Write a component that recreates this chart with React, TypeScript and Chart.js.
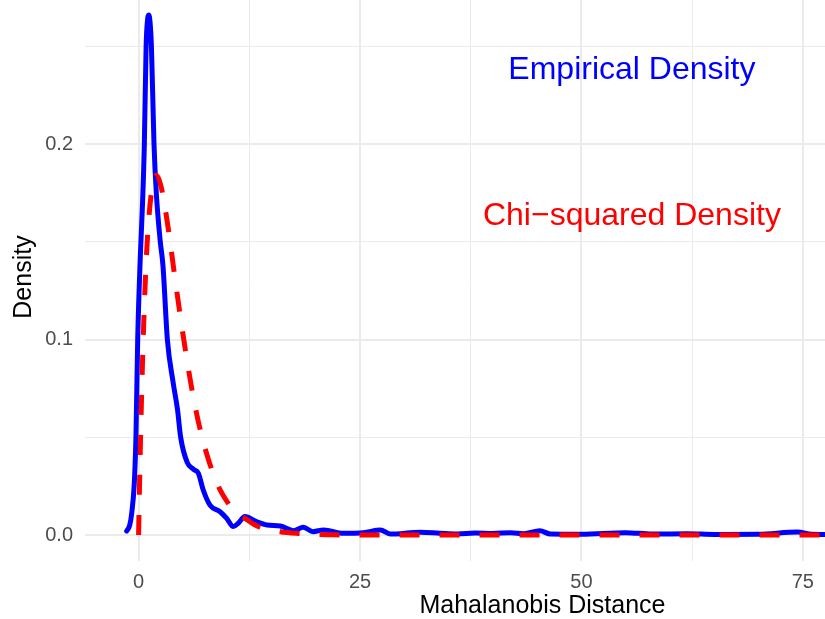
import React, { useEffect, useRef } from "react";
import { Chart, registerables } from "chart.js";

Chart.register(...registerables);

// Empirical density (blue solid)
const empiricalX = [-1.35, -1.0, -0.78, -0.49, -0.3, -0.1, 0.2, 0.45, 0.65, 0.85, 1.0, 1.15, 1.3, 1.45, 1.74, 2.0, 2.45, 2.75, 3.25, 3.9, 4.4, 4.75, 5.5, 6.2, 6.75, 7.3, 8.06, 9.2, 9.95, 10.7, 11.25, 12.0, 13.3, 14.5, 16.0, 17.5, 18.6, 19.7, 20.9, 23.1, 25.4, 27.3, 28.4, 31.8, 34, 36, 38, 40, 42, 43.5, 45.3, 46.5, 50, 55, 58, 62, 65, 70, 74.4, 76, 78];
const empiricalY = [0.002, 0.005, 0.011, 0.026, 0.05, 0.1, 0.143, 0.17, 0.2, 0.25, 0.263, 0.266, 0.262, 0.25, 0.2, 0.175, 0.15, 0.138, 0.1, 0.078, 0.064, 0.05, 0.037, 0.0336, 0.0316, 0.023, 0.0153, 0.0119, 0.0085, 0.0043, 0.006, 0.0094, 0.0068, 0.0051, 0.0046, 0.0022, 0.0039, 0.0017, 0.0026, 0.0009, 0.0012, 0.0026, 0.0005, 0.0014, 0.0009, 0.0005, 0.001, 0.0008, 0.0012, 0.0007, 0.0022, 0.0005, 0.0004, 0.0012, 0.0005, 0.0006, 0.0003, 0.0004, 0.0015, 0.0004, 0.0003];

// Chi-squared density (red dashed)
const chiX = [0, 0.1, 0.25, 0.5, 0.75, 1, 1.5, 2, 2.5, 3, 3.5, 4, 5, 6, 7, 8, 9, 10, 11, 12, 13, 14, 16, 18, 20, 22, 25, 30, 40, 50, 60, 70, 78];
const chiY = [0, 0.024, 0.055, 0.097, 0.129, 0.152, 0.177, 0.184, 0.179, 0.167, 0.152, 0.135, 0.103, 0.075, 0.053, 0.037, 0.025, 0.017, 0.011, 0.0085, 0.0055, 0.0035, 0.0017, 0.0008, 0.0003, 0.0001, 0, 0, 0, 0, 0, 0, 0];

// Axis ticks
const xMajorTicks = [0, 25, 50, 75];
const xTickLabels = ["0", "25", "50", "75"];
const xMinorTicks = [12.5, 37.5, 62.5];
const yMajorTicks = [0, 0.1, 0.2];
const yTickLabels = ["0.0", "0.1", "0.2"];
const yMinorTicks = [0.05, 0.15, 0.25];

const xTitle = "Mahalanobis Distance";
const yTitle = "Density";
const annotationTexts = ["Empirical Density", "Chi\u2212squared Density"];
const annotationX = [55.7, 55.7];
const annotationY = [0.238, 0.163];
const annotationColors = ["#0000ff", "#ff0000"];

const FONT = '"Liberation Sans", Arial, Helvetica, sans-serif';

const findIdx = (arr: number[], v: number) => arr.findIndex((a) => Math.abs(a - v) < 1e-9);

export default function App() {
  const ref = useRef<HTMLCanvasElement | null>(null);

  useEffect(() => {
    if (!ref.current) return;

    const textPlugin = {
      id: "textPlugin",
      afterDraw(chart: any) {
        const ctx = chart.ctx;
        const xs = chart.scales.x;
        const ys = chart.scales.y;
        ctx.save();
        ctx.textAlign = "center";
        ctx.textBaseline = "middle";
        ctx.font = `32px ${FONT}`;
        annotationTexts.forEach((t, i) => {
          ctx.fillStyle = annotationColors[i];
          ctx.fillText(t, xs.getPixelForValue(annotationX[i]), ys.getPixelForValue(annotationY[i]));
        });
        ctx.fillStyle = "#000000";
        ctx.font = `25px ${FONT}`;
        ctx.textBaseline = "alphabetic";
        ctx.fillText(xTitle, xs.getPixelForValue(45.6), 613);
        ctx.translate(31, 277);
        ctx.rotate(-Math.PI / 2);
        ctx.fillText(yTitle, 0, 0);
        ctx.restore();
      },
    };

    const zeroPad = (s: any) => {
      s.paddingTop = 0;
      s.paddingBottom = 0;
      s.paddingLeft = 0;
      s.paddingRight = 0;
    };

    const chart = new Chart(ref.current, {
      type: "line",
      data: {
        datasets: [
          {
            label: "Chi-squared Density",
            data: chiX.map((x, i) => ({ x, y: chiY[i] })),
            borderColor: "#ff0000",
            borderWidth: 5,
            borderDash: [20, 20],
            borderCapStyle: "butt",
            pointRadius: 0,
            cubicInterpolationMode: "monotone",
            fill: false,
            order: 0,
          },
          {
            label: "Empirical Density",
            data: empiricalX.map((x, i) => ({ x, y: empiricalY[i] })),
            borderColor: "#0000ff",
            borderWidth: 5,
            borderJoinStyle: "round",
            borderCapStyle: "round",
            pointRadius: 0,
            cubicInterpolationMode: "monotone",
            fill: false,
            order: 1,
          },
        ],
      },
      options: {
        animation: false,
        responsive: false,
        devicePixelRatio: 1,
        layout: { padding: 0, autoPadding: false },
        plugins: {
          legend: { display: false },
          tooltip: { enabled: false },
          title: { display: false },
        },
        scales: {
          x: {
            type: "linear",
            min: -6.05,
            max: 77.5,
            afterBuildTicks: (s: any) => {
              s.ticks = [...xMajorTicks, ...xMinorTicks].sort((a, b) => a - b).map((v) => ({ value: v }));
            },
            afterFit: (s: any) => {
              s.height = 58;
              zeroPad(s);
            },
            ticks: {
              autoSkip: false,
              maxRotation: 0,
              padding: 9,
              color: "#4d4d4d",
              font: { family: FONT, size: 20 },
              callback: (v: any) => {
                const i = findIdx(xMajorTicks, Number(v));
                return i >= 0 ? xTickLabels[i] : "";
              },
            },
            grid: {
              color: "#ebebeb",
              lineWidth: (c: any) => (findIdx(xMajorTicks, c.tick?.value) >= 0 ? 2 : 1),
              drawTicks: false,
            },
            border: { display: false },
          },
          y: {
            type: "linear",
            min: -0.0133,
            max: 0.27366,
            afterBuildTicks: (s: any) => {
              s.ticks = [...yMajorTicks, ...yMinorTicks].sort((a, b) => a - b).map((v) => ({ value: v }));
            },
            afterFit: (s: any) => {
              s.width = 85;
              zeroPad(s);
            },
            ticks: {
              autoSkip: false,
              padding: 12,
              color: "#4d4d4d",
              font: { family: FONT, size: 20 },
              callback: (v: any) => {
                const i = findIdx(yMajorTicks, Number(v));
                return i >= 0 ? yTickLabels[i] : "";
              },
            },
            grid: {
              color: "#ebebeb",
              lineWidth: (c: any) => (findIdx(yMajorTicks, c.tick?.value) >= 0 ? 2 : 1),
              drawTicks: false,
            },
            border: { display: false },
          },
        },
      } as any,
      plugins: [textPlugin],
    });

    return () => chart.destroy();
  }, []);

  return (
    <div style={{ position: "absolute", left: 0, top: 0, width: 825, height: 619, background: "#ffffff" }}>
      <canvas ref={ref} width={825} height={619} style={{ display: "block", width: 825, height: 619 }} />
    </div>
  );
}
